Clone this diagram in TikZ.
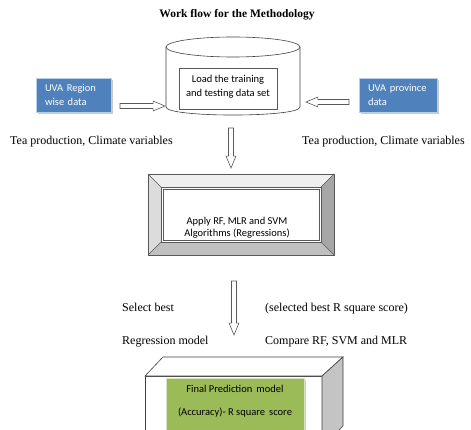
\documentclass[tikz,border=0pt]{standalone}
\usepackage{fontspec}
\setmainfont{Liberation Serif}
\newfontfamily\calfont{Carlito}
\usetikzlibrary{shapes.arrows,shadows}
\definecolor{uvablue}{HTML}{4F81BD}
\definecolor{uvaborder}{HTML}{B9CDE5}
\definecolor{fingreen}{HTML}{9BBB59}
\definecolor{finborder}{HTML}{D7E4BD}
\definecolor{edgegray}{HTML}{595959}
\definecolor{bevtop}{HTML}{EFEFEF}
\definecolor{bevleft}{HTML}{DCDCDC}
\definecolor{bevright}{HTML}{A6A6A6}
\definecolor{bevbottom}{HTML}{C0C0C0}
\definecolor{cubegray}{HTML}{C4C4C4}
\begin{document}
\begin{tikzpicture}[x=1pt,y=-1pt,
  serif/.style={font=\fontsize{12}{14}\selectfont, inner sep=0pt},
  titlestyle/.style={font=\bfseries\fontsize{11.5}{14}\selectfont, inner sep=0pt},
  barrow/.style={single arrow, draw=edgegray, fill=white, line width=0.6pt,
    inner sep=2.2pt, single arrow head extend=2.4pt,
    single arrow tip angle=45, single arrow head indent=0pt},
  bluebox/.style={rectangle, fill=uvablue, draw=uvaborder, line width=0.8pt,
    drop shadow={shadow xshift=1.6pt, shadow yshift=-1.6pt, fill=black!35, opacity=0.6},
    text=white, align=left, inner xsep=9pt, inner ysep=0pt,
    minimum height=34pt, font=\calfont\fontsize{10.5}{14}\selectfont},
  plainbox/.style={rectangle, draw=edgegray, fill=white, line width=0.6pt},
  caltext/.style={font=\calfont\fontsize{10.5}{14}\selectfont, align=center, inner sep=0pt},
  cylline/.style={draw=black!75, line width=0.6pt, fill=white},
  ghost/.style={inner sep=0pt}
]
\useasboundingbox (0,0) rectangle (471,430);
\clip (0,0) rectangle (471,430);
\fill[white] (0,0) rectangle (471,430);

% title
\node[titlestyle, anchor=base] (title) at (237,17.5) {Work flow for the Methodology};

% cylinder
\draw[cylline] (166,47) -- (166,107) .. controls (166,117.7) and (300,117.7) .. (300,107) -- (300,47);
\draw[cylline] (233,47) ellipse [x radius=67pt, y radius=10pt];
\node[ghost, minimum width=134pt, minimum height=78pt] (cyl) at (233,76) {};
\node[plainbox, minimum width=98pt, minimum height=41pt] (load) at (228,88.5) {};
\node[caltext] (loadtxt) at (228,86.5) {Load the training\\and testing data set};

% blue boxes
\node[bluebox, text width=57pt] (uvl) at (73.5,95) {UVA Region\\wise data};
\node[bluebox, text width=60pt] (uvr) at (398,95) {UVA province\\data};

% side arrows
\node[barrow, minimum height=45pt] (al) at (139.5,106) {};
\node[barrow, minimum height=43pt, shape border rotate=180] (ar) at (330.5,102) {};

% labels
\node[serif, anchor=base west] (teal) at (10,145) {Tea production, Climate variables};
\node[serif, anchor=base west] (tear) at (302,145) {Tea production, Climate variables};

% down arrow 1
\node[barrow, minimum height=40pt, shape border rotate=270] (ad1) at (231,145) {};

% bevel box
\fill[bevtop] (148,174) -- (334,174) -- (321,187) -- (161,187) -- cycle;
\fill[bevleft] (148,174) -- (161,187) -- (161,242) -- (148,255) -- cycle;
\fill[bevright] (334,174) -- (321,187) -- (321,242) -- (334,255) -- cycle;
\fill[bevbottom] (148,255) -- (161,242) -- (321,242) -- (334,255) -- cycle;
\draw[draw=edgegray, line width=0.6pt] (148,174) rectangle (334,255);
\draw[draw=edgegray, line width=0.5pt] (148,174) -- (161,187) (334,174) -- (321,187)
  (148,255) -- (161,242) (334,255) -- (321,242);
\draw[fill=white, draw=edgegray, line width=0.6pt] (161,187) rectangle (321,242);
\draw[draw=edgegray, line width=0.5pt] (163,189) rectangle (319,240);
\node[ghost, minimum width=186pt, minimum height=81pt] (apply) at (241,214.5) {};
\node[caltext, font=\calfont\fontsize{10.5}{11.5}\selectfont] (applytxt) at (237,228)
  {Apply RF, MLR and SVM\\Algorithms (Regressions)};

% down arrow 2
\node[barrow, minimum height=54pt, shape border rotate=270] (ad2) at (234,305) {};

% selection labels
\node[serif, anchor=base west] (sel) at (122,311) {Select best};
\node[serif, anchor=base west] (selr) at (265,311) {(selected best R square score)};
\node[serif, anchor=base west] (reg) at (122,344) {Regression model};
\node[serif, anchor=base west] (cmp) at (265,344) {Compare RF, SVM and MLR};

% cube
\draw[cylline] (145,376) rectangle (322,450);
\draw[cylline] (145,376) -- (163,357) -- (343,357) -- (322,376) -- cycle;
\draw[cylline, fill=cubegray] (322,376) -- (343,357) -- (343,426) -- (322,447) -- cycle;
\node[ghost, minimum width=198pt, minimum height=74pt] (final) at (244,413) {};
\fill[black!20] (168,380) rectangle (306,440);
\draw[fill=fingreen, draw=finborder, line width=0.8pt] (166,378) rectangle (304,440);
\node[caltext, font=\calfont\fontsize{10.5}{23}\selectfont] (fintxt) at (235,401.5)
  {Final Prediction\, model\\(Accuracy)- R square\, score};
\end{tikzpicture}
\end{document}
